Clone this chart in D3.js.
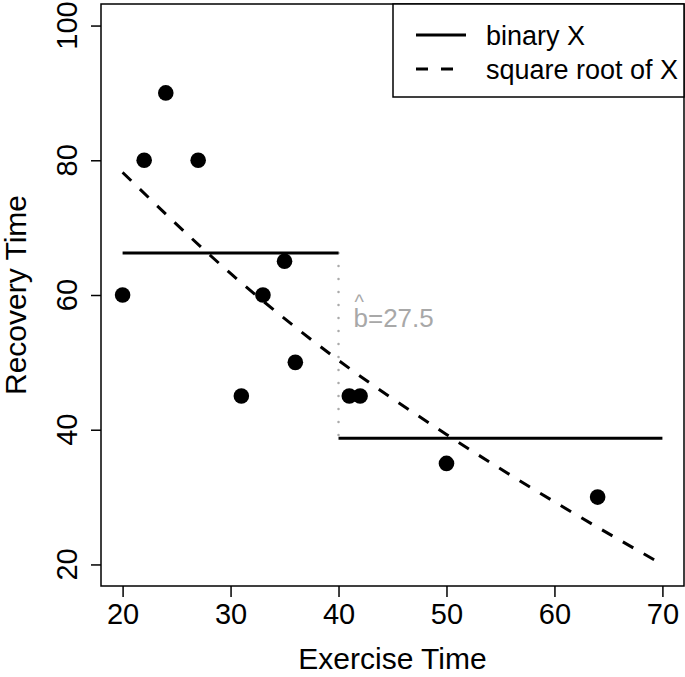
<html>
<head>
    <style>
        body {
            margin: 0;
            font-family: "Liberation Sans", Arial, sans-serif;
            background: white;
        }
    </style>
    <script src="https://cdn.jsdelivr.net/npm/d3@7"></script>
</head>

<body>
    <svg id="chart"></svg>
    <script>

    // data
    let exerciseTime = [20, 22, 24, 27, 31, 33, 35, 36, 41, 42, 50, 64]
    let recoveryTime = [60, 80, 90, 80, 45, 60, 65, 50, 45, 45, 35, 30]

    // binary X fit: group means left and right of the cut
    let binaryCuts = [20, 40, 70]
    let binaryMeans = [66.25, 38.75]

    // square root of X fit, read at a few x values
    let sqrtFitX = [20, 30, 40, 50, 60, 70]
    let sqrtFitY = [78.2, 63.2, 50.3, 39.3, 29.3, 20.0]

    let xTicks = [20, 30, 40, 50, 60, 70]
    let yTicks = [20, 40, 60, 80, 100]
    let legendLabels = ["binary X", "square root of X"]
    let bLabel = "b=27.5"

    let width = 685
    let height = 677
    let plot = {left: 101, right: 684, top: 4, bottom: 586}

    let svg = d3.select("#chart")
        .attr("width", width)
        .attr("height", height)

    let x = d3.scaleLinear().domain([18, 72]).range([plot.left, plot.right])
    let y = d3.scaleLinear().domain([16.8, 103.2]).range([plot.bottom, plot.top])

    // dotted gap between the two means
    svg.append("line")
        .attr("x1", x(binaryCuts[1])).attr("x2", x(binaryCuts[1]))
        .attr("y1", y(binaryMeans[0])).attr("y2", y(binaryMeans[1]))
        .attr("stroke", "#aaaaaa")
        .attr("stroke-width", 2.5)
        .attr("stroke-linecap", "round")
        .attr("stroke-dasharray", "0,13")

    // binary X segments
    svg.selectAll(".binary").data(binaryMeans)
        .enter().append("line")
        .attr("class", "binary")
        .attr("x1", (d, i) => x(binaryCuts[i]))
        .attr("x2", (d, i) => x(binaryCuts[i + 1]))
        .attr("y1", d => y(d))
        .attr("y2", d => y(d))
        .attr("stroke", "black")
        .attr("stroke-width", 3)

    // sqrt X curve
    let line = d3.line()
        .x(d => x(d[0]))
        .y(d => y(d[1]))
        .curve(d3.curveMonotoneX)

    svg.append("path")
        .attr("d", line(sqrtFitX.map((v, i) => [v, sqrtFitY[i]])))
        .attr("fill", "none")
        .attr("stroke", "black")
        .attr("stroke-width", 3)
        .attr("stroke-dasharray", "12,12")

    // points
    svg.selectAll(".pt").data(exerciseTime)
        .enter().append("circle")
        .attr("class", "pt")
        .attr("cx", d => x(d))
        .attr("cy", (d, i) => y(recoveryTime[i]))
        .attr("r", 7.8)
        .attr("fill", "black")

    // b hat label, hat and text in one element
    let bx = x(40) + 15
    let bt = svg.append("text")
        .attr("fill", "#a8a8a8")
    bt.append("tspan")
        .attr("x", bx + 1).attr("y", 309)
        .attr("font-size", 20)
        .text("^")
    bt.append("tspan")
        .attr("x", bx).attr("y", 327)
        .attr("font-size", 26)
        .text(bLabel)

    // axes
    let xAxis = d3.axisBottom(x).tickValues(xTicks).tickSize(11).tickPadding(6)
    let gx = svg.append("g")
        .attr("transform", `translate(0,${plot.bottom})`)
        .call(xAxis)
    gx.select(".domain").remove()
    gx.selectAll("line").attr("stroke-width", 1.5)
    gx.selectAll("text")
        .attr("font-size", 29)
        .attr("font-family", "Liberation Sans, Arial, sans-serif")
        .attr("fill", "black")

    let yAxis = d3.axisLeft(y).tickValues(yTicks).tickSize(10).tickFormat("")
    let gy = svg.append("g")
        .attr("transform", `translate(${plot.left},0)`)
        .call(yAxis)
    gy.select(".domain").remove()
    gy.selectAll("line").attr("stroke-width", 1.5)

    svg.selectAll(".ylab").data(yTicks)
        .enter().append("text")
        .attr("class", "ylab")
        .attr("transform", d => `translate(77,${y(d)}) rotate(-90)`)
        .attr("text-anchor", "middle")
        .attr("font-size", 29)
        .text(d => d)

    // box
    svg.append("rect")
        .attr("x", plot.left).attr("y", plot.top)
        .attr("width", plot.right - plot.left)
        .attr("height", plot.bottom - plot.top)
        .attr("fill", "none")
        .attr("stroke", "black")
        .attr("stroke-width", 1.5)

    // axis titles
    svg.append("text")
        .attr("x", (plot.left + plot.right) / 2).attr("y", 669)
        .attr("text-anchor", "middle")
        .attr("font-size", 30)
        .text("Exercise Time")

    svg.append("text")
        .attr("transform", `translate(26,${(plot.top + plot.bottom) / 2}) rotate(-90)`)
        .attr("text-anchor", "middle")
        .attr("font-size", 30)
        .text("Recovery Time")

    // legend
    let legend = svg.append("g")
    legend.append("rect")
        .attr("x", 393).attr("y", plot.top)
        .attr("width", plot.right - 393).attr("height", 93)
        .attr("fill", "white")
        .attr("stroke", "black")
        .attr("stroke-width", 1.5)

    let legendDash = ["none", "12,13"]
    let legendY = [35, 69]
    legend.selectAll(".lgline").data(legendLabels)
        .enter().append("line")
        .attr("x1", 416).attr("x2", 466)
        .attr("y1", (d, i) => legendY[i]).attr("y2", (d, i) => legendY[i])
        .attr("stroke", "black")
        .attr("stroke-width", 3)
        .attr("stroke-dasharray", (d, i) => legendDash[i])
    legend.selectAll(".lgtext").data(legendLabels)
        .enter().append("text")
        .attr("x", 486)
        .attr("y", (d, i) => legendY[i] + 10)
        .attr("font-size", 27)
        .text(d => d)

    </script>
</body>

</html>
